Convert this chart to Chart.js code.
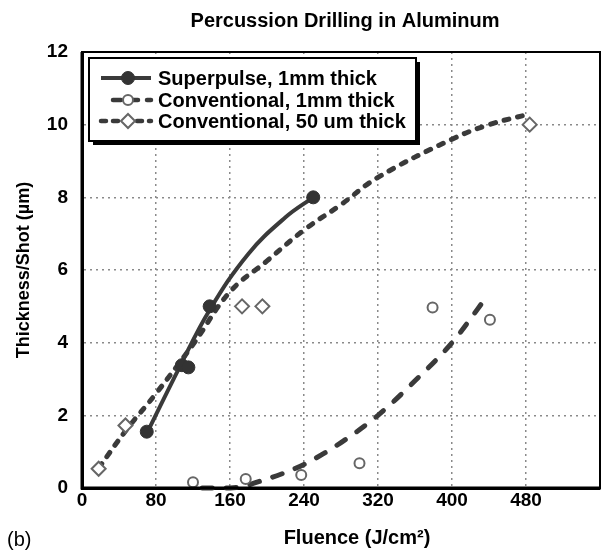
<!DOCTYPE html>
<html><head><meta charset="utf-8">
<script src="https://cdn.jsdelivr.net/npm/chart.js@4"></script>
<style>html,body{margin:0;padding:0;background:#fff}#wrap{width:611px;height:551px;position:relative}</style>
</head><body><div id="wrap"><canvas id="c" width="611" height="551"></canvas></div>
<script>
// ---- data ----
const chartTitle = 'Percussion Drilling in Aluminum';
const xTitle = 'Fluence (J/cm²)';
const yTitle = 'Thickness/Shot (µm)';
const panelLabel = '(b)';
const seriesNames = ['Superpulse, 1mm thick', 'Conventional, 1mm thick', 'Conventional, 50 um thick'];
const xTickValues = [0, 80, 160, 240, 320, 400, 480];
const yTickValues = [0, 2, 4, 6, 8, 10, 12];

const superX = [70, 108, 115, 138, 250];
const superY = [1.55, 3.38, 3.32, 5.0, 8.0];
const conv1X = [120, 177, 237, 300, 379, 441];
const conv1Y = [0.16, 0.25, 0.36, 0.68, 4.97, 4.63];
const conv50X = [18, 47, 173, 195, 484];
const conv50Y = [0.53, 1.72, 5.0, 5.0, 10.0];

// trend curves
const superFitX = [70, 105, 138, 180, 220, 250];
const superFitY = [1.5, 3.3, 4.9, 6.45, 7.45, 8.0];
const conv1FitX = [130, 160, 200, 240, 280, 320, 360, 400, 440];
const conv1FitY = [0, 0, 0.25, 0.65, 1.25, 2.0, 2.95, 4.0, 5.35];
const conv50FitX = [18, 48, 80, 120, 160, 200, 240, 280, 320, 400, 440, 485];
const conv50FitY = [0.55, 1.6, 2.6, 3.95, 5.4, 6.25, 7.1, 7.8, 8.55, 9.6, 10.0, 10.3];

const pts = (xs, ys) => xs.map((x, i) => ({x, y: ys[i]}));
const FONT = "'Liberation Sans', Arial, sans-serif";
const LINE = '#3a3a3a';
const MARK = '#666';

const styles = [
  {line: {borderColor: LINE, borderWidth: 4, borderDash: [], tension: 0.4},
   pt: {pointStyle: 'circle', pointRadius: 6.5, backgroundColor: '#333', borderColor: '#333', borderWidth: 1}},
  {line: {borderColor: LINE, borderWidth: 5, borderDash: [10, 14], cubicInterpolationMode: 'monotone'},
   pt: {pointStyle: 'circle', pointRadius: 5, backgroundColor: '#fff', borderColor: MARK, borderWidth: 2}},
  {line: {borderColor: LINE, borderWidth: 5, borderDash: [5, 9], tension: 0.4},
   pt: {pointStyle: 'rectRot', pointRadius: 7, backgroundColor: '#fff', borderColor: MARK, borderWidth: 2}}
];

const fits = [pts(superFitX, superFitY), pts(conv1FitX, conv1FitY), pts(conv50FitX, conv50FitY)];
const marks = [pts(superX, superY), pts(conv1X, conv1Y), pts(conv50X, conv50Y)];

const datasets = [];
for (let i = 0; i < 3; i++) {
  datasets.push(Object.assign({label: seriesNames[i], data: marks[i], showLine: false, clip: false,
    pointHoverRadius: styles[i].pt.pointRadius}, styles[i].pt));
}
for (let i = 0; i < 3; i++) {
  datasets.push(Object.assign({label: seriesNames[i] + ' fit', data: fits[i], showLine: true, pointRadius: 0,
    clip: false, borderCapStyle: 'round', borderJoinStyle: 'round', fill: false}, styles[i].line));
}

const frame = {
  id: 'frame',
  afterDatasetsDraw(chart) {
    const {ctx, chartArea: a} = chart;
    ctx.save();
    ctx.strokeStyle = '#000';
    ctx.lineWidth = 2;
    ctx.strokeRect(a.left, a.top, a.right - a.left, a.bottom - a.top);
    ctx.lineWidth = 3;
    ctx.beginPath();
    ctx.moveTo(a.left, a.top); ctx.lineTo(a.left, a.bottom); ctx.lineTo(a.right, a.bottom);
    ctx.stroke();
    // legend box
    const bx = a.left + 7, by = a.top + 6, bw = 327, bh = 83;
    ctx.fillStyle = '#000';
    ctx.fillRect(bx + 4, by + 4, bw, bh);
    ctx.fillStyle = '#fff';
    ctx.fillRect(bx, by, bw, bh);
    ctx.lineWidth = 2;
    ctx.strokeStyle = '#000';
    ctx.strokeRect(bx, by, bw, bh);
    const rows = [by + 20, by + 42, by + 63];
    for (let i = 0; i < 3; i++) {
      const y = rows[i];
      const s = styles[i];
      ctx.save();
      ctx.strokeStyle = s.line.borderColor;
      ctx.lineWidth = i === 0 ? 4 : 4.5;
      ctx.lineCap = i === 0 ? 'butt' : 'round';
      ctx.setLineDash(i === 0 ? [] : (i === 1 ? [8, 9] : [5, 7]));
      ctx.beginPath();
      const x0 = i === 1 ? bx + 24 : bx + 12;
      ctx.moveTo(x0, y); ctx.lineTo(bx + 62, y);
      ctx.stroke();
      ctx.restore();
      ctx.save();
      ctx.fillStyle = s.pt.backgroundColor; ctx.strokeStyle = s.pt.borderColor; ctx.lineWidth = s.pt.borderWidth;
      Chart.helpers.drawPoint(ctx, {pointStyle: s.pt.pointStyle, radius: s.pt.pointRadius, borderWidth: s.pt.borderWidth},
        bx + 39, y);
      ctx.restore();
      ctx.fillStyle = '#000';
      ctx.font = 'bold 20px ' + FONT;
      ctx.textBaseline = 'middle';
      ctx.textAlign = 'left';
      ctx.fillText(seriesNames[i], bx + 69, y + 1);
    }
    ctx.restore();
  },
  afterDraw(chart) {
    const {ctx, chartArea: a} = chart;
    ctx.save();
    ctx.fillStyle = '#000';
    ctx.textAlign = 'center';
    ctx.textBaseline = 'middle';
    ctx.font = 'bold 20px ' + FONT;
    ctx.fillText(chartTitle, 345, 21);
    ctx.fillText(xTitle, 357, 538);
    ctx.textAlign = 'left';
    ctx.textBaseline = 'alphabetic';
    ctx.font = '20px ' + FONT;
    ctx.fillText(panelLabel, 7, 546);
    ctx.restore();
  }
};

new Chart(document.getElementById('c'), {
  type: 'scatter',
  data: {datasets},
  options: {
    responsive: false,
    animation: false,
    devicePixelRatio: 1,
    layout: {padding: {top: 52, right: 11, left: 0, bottom: 0}},
    plugins: {
      legend: {display: false},
      tooltip: {enabled: false},
      title: {display: false}
    },
    scales: {
      x: {
        type: 'linear', min: 0, max: 560,
        afterBuildTicks: s => { s.ticks = xTickValues.concat([560]).map(v => ({value: v})); },
        ticks: {color: '#000', font: {family: FONT, size: 19, weight: 'bold'}, padding: 1,
          callback: v => xTickValues.includes(v) ? String(v) : ''},
        grid: {drawTicks: false, lineWidth: 1.5,
          color: c => (c.tick && (c.tick.value === 0 || c.tick.value === 560)) ? 'rgba(0,0,0,0)' : '#8a8a8a'},
        border: {display: true, color: '#000', width: 3, dash: [2, 4]},
        title: {display: false},
        afterFit: s => { s.height = 63; }
      },
      y: {
        type: 'linear', min: 0, max: 12,
        afterBuildTicks: s => { s.ticks = yTickValues.map(v => ({value: v})); },
        ticks: {color: '#000', font: {family: FONT, size: 19, weight: 'bold'}, padding: 14},
        grid: {drawTicks: false, lineWidth: 1.5,
          color: c => (c.tick && (c.tick.value === 0 || c.tick.value === 12)) ? 'rgba(0,0,0,0)' : '#8a8a8a'},
        border: {display: true, color: '#000', width: 3, dash: [2, 4]},
        title: {display: true, text: yTitle, color: '#000', font: {family: FONT, size: 18, weight: 'bold'},
          padding: {top: 13, bottom: 0}},
        afterFit: s => { s.width = 82; }
      }
    }
  },
  plugins: [frame]
});
</script>
</body></html>
